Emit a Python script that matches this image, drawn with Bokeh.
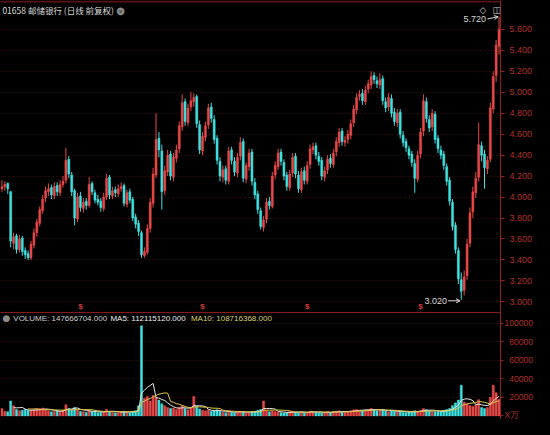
import pandas as pd
from bokeh.plotting import figure
from bokeh.layouts import column
from bokeh.models import (ColumnDataSource, Range1d, FixedTicker, Label, Span,
                          Arrow, OpenHead, NumeralTickFormatter)
from bokeh.core.properties import value
from bokeh.embed import file_html
from bokeh.resources import INLINE

# ---------------- data ----------------
opens = [4.08,4.10,4.13,4.05,3.56,3.63,3.50,3.61,3.49,3.46,
         3.42,3.54,3.66,3.75,3.87,3.99,4.05,4.09,4.01,4.11,
         4.04,4.12,4.16,4.36,4.21,4.06,3.79,4.01,3.89,3.96,
         3.92,4.13,4.04,3.98,3.96,3.89,4.00,4.19,4.01,4.07,
         4.03,4.08,4.11,3.93,4.05,3.98,3.81,3.75,3.66,3.44,
         3.47,3.70,3.94,4.21,4.56,4.44,4.06,4.24,4.41,4.19,
         4.37,4.46,4.67,4.91,4.71,4.86,4.91,4.96,4.69,4.44,
         4.57,4.69,4.86,4.74,4.56,4.34,4.19,4.27,4.15,4.45,
         4.34,4.23,4.39,4.53,4.17,4.29,4.43,4.14,4.03,3.87,
         3.71,3.79,3.96,3.91,4.21,4.29,4.43,4.33,4.21,4.09,
         4.23,4.39,4.21,4.07,4.25,4.15,4.31,4.45,4.49,4.39,
         4.35,4.19,4.26,4.37,4.31,4.43,4.52,4.63,4.52,4.55,
         4.59,4.71,4.83,4.96,4.99,4.91,5.03,5.07,5.16,5.11,
         5.07,5.13,4.91,4.86,4.94,4.81,4.71,4.81,4.59,4.53,
         4.46,4.41,4.32,4.17,4.41,4.63,4.91,4.74,4.67,4.79,
         4.56,4.45,4.41,4.29,4.16,3.95,3.73,3.49,3.21,3.11,
         3.25,3.56,3.86,4.04,4.19,4.49,4.41,4.27,4.36,4.84,
         5.16,5.44]
highs = [4.16,4.15,4.14,4.06,3.66,3.65,3.64,3.63,3.52,3.49,
         3.58,3.70,3.79,3.91,4.02,4.10,4.13,4.12,4.14,4.14,
         4.16,4.20,4.47,4.39,4.24,4.08,4.04,4.05,3.99,3.99,
         4.19,4.15,4.07,4.02,3.99,4.04,4.22,4.21,4.10,4.10,
         4.12,4.14,4.13,4.07,4.08,4.00,3.84,3.78,3.68,3.52,
         3.74,3.99,4.28,4.80,4.62,4.50,4.30,4.45,4.44,4.42,
         4.50,4.72,4.98,4.94,4.89,5.00,4.99,4.98,4.73,4.62,
         4.72,4.89,4.90,4.78,4.59,4.38,4.30,4.30,4.48,4.48,
         4.38,4.42,4.57,4.56,4.33,4.46,4.46,4.18,4.06,3.90,
         3.82,3.99,4.00,4.24,4.34,4.46,4.46,4.36,4.24,4.26,
         4.42,4.42,4.25,4.28,4.29,4.34,4.50,4.52,4.52,4.43,
         4.38,4.29,4.40,4.41,4.46,4.57,4.66,4.66,4.58,4.64,
         4.74,4.88,4.99,5.02,5.03,5.06,5.12,5.20,5.19,5.15,
         5.18,5.16,4.95,4.99,4.98,4.85,4.84,4.84,4.63,4.56,
         4.49,4.44,4.36,4.44,4.66,4.98,4.95,4.78,4.84,4.82,
         4.59,4.49,4.44,4.32,4.19,3.98,3.76,3.52,3.28,3.30,
         3.60,3.90,4.10,4.24,4.71,4.53,4.45,4.39,4.90,5.20,
         5.50,5.72]
lows = [4.05,4.06,4.03,3.52,3.50,3.46,3.47,3.44,3.41,3.40,
        3.40,3.51,3.62,3.72,3.84,3.95,4.01,3.98,3.98,4.01,
        4.01,4.09,4.13,4.18,4.01,3.73,3.76,3.86,3.85,3.88,
        3.90,4.02,3.94,3.92,3.86,3.86,3.97,3.98,3.98,4.00,
        4.00,4.05,3.91,3.90,3.94,3.77,3.70,3.63,3.42,3.42,
        3.45,3.66,3.90,4.18,4.38,3.88,4.02,4.20,4.16,4.15,
        4.33,4.42,4.63,4.68,4.68,4.82,4.86,4.66,4.41,4.40,
        4.53,4.65,4.71,4.51,4.31,4.15,4.14,4.12,4.12,4.31,
        4.20,4.19,4.35,4.14,4.13,4.25,4.11,3.98,3.84,3.69,
        3.67,3.75,3.88,3.89,4.17,4.26,4.30,4.16,4.06,4.06,
        4.19,4.18,4.04,4.04,4.12,4.12,4.27,4.41,4.36,4.30,
        4.16,4.15,4.22,4.28,4.28,4.39,4.48,4.49,4.48,4.51,
        4.55,4.67,4.79,4.92,4.88,4.88,4.99,5.03,5.08,5.04,
        5.03,4.88,4.81,4.82,4.76,4.68,4.67,4.56,4.48,4.43,
        4.36,4.29,4.04,4.14,4.37,4.58,4.71,4.62,4.63,4.51,
        4.42,4.36,4.26,4.11,3.92,3.68,3.46,3.17,3.02,3.06,
        3.21,3.52,3.80,3.99,4.15,4.34,4.08,4.22,4.33,4.80,
        5.10,5.36]
closes = [4.10,4.12,4.08,3.58,3.62,3.50,3.60,3.48,3.45,3.42,
          3.55,3.66,3.76,3.88,3.98,4.06,4.08,4.02,4.10,4.05,
          4.12,4.15,4.35,4.22,4.05,3.80,4.00,3.90,3.95,3.92,
          4.12,4.05,3.97,3.95,3.90,4.00,4.18,4.02,4.06,4.04,
          4.08,4.10,3.94,4.04,3.97,3.80,3.74,3.67,3.45,3.48,
          3.70,3.95,4.22,4.55,4.45,4.05,4.25,4.40,4.20,4.38,
          4.45,4.68,4.90,4.72,4.85,4.92,4.95,4.70,4.45,4.58,
          4.68,4.85,4.75,4.55,4.35,4.20,4.26,4.16,4.44,4.35,
          4.24,4.38,4.52,4.18,4.30,4.42,4.15,4.02,3.88,3.72,
          3.78,3.95,3.92,4.20,4.30,4.42,4.34,4.20,4.10,4.22,
          4.38,4.22,4.08,4.24,4.16,4.30,4.46,4.48,4.40,4.34,
          4.20,4.25,4.36,4.32,4.42,4.53,4.62,4.53,4.54,4.60,
          4.70,4.84,4.95,4.98,4.92,5.02,5.08,5.15,5.12,5.08,
          5.12,4.92,4.85,4.95,4.80,4.72,4.80,4.60,4.52,4.47,
          4.40,4.33,4.18,4.40,4.62,4.92,4.75,4.66,4.80,4.55,
          4.46,4.40,4.30,4.15,3.96,3.72,3.50,3.22,3.10,3.24,
          3.55,3.85,4.05,4.18,4.50,4.40,4.28,4.35,4.85,5.15,
          5.45,5.60]
volumes = [8000,5000,4500,16000,11000,7000,5500,6000,7000,6000,
           5500,6500,7000,8000,8500,7000,5500,4500,5000,5500,
           4500,6000,12000,8000,6500,9000,7000,5000,4500,4000,
           6000,5000,4000,3500,4000,4500,7000,5000,4000,3500,
           4000,4500,5000,4000,3500,5000,5500,11000,97000,19000,
           21000,16000,22000,20000,17000,13000,11000,9000,8000,8500,
           7000,9000,11000,8000,6500,9000,21000,10000,7500,6000,
           5500,6500,5000,5500,6500,5000,4000,3500,5500,4000,
           3500,4000,5000,4500,3500,4000,4500,5000,6000,7000,
           16000,6000,4500,5500,4500,4000,3500,3000,3500,4500,
           5000,4000,3500,4500,3500,4000,5000,4500,4000,3500,
           3500,4000,4500,3500,4500,5000,5500,4500,4000,4500,
           5500,6500,7000,6000,5500,6500,7000,8000,6500,5500,
           6000,7000,5500,4500,5500,5000,4500,5000,4000,3500,
           4500,4000,5500,4500,6000,8000,6500,5500,5000,4500,
           5000,4500,6000,7000,8000,11000,14000,17000,33000,15000,
           13000,11000,10000,12000,17500,9000,8000,9000,20000,33000,
           25000,18000]
price_ticks = [3.0, 3.2, 3.4, 3.6, 3.8, 4.0, 4.2, 4.4, 4.6, 4.8, 5.0, 5.2, 5.4, 5.6]
vol_ticks = [0, 20000, 40000, 60000, 80000, 100000]
vol_tick_labels = ["X万", "\u200720000", "\u200740000", "\u200760000", "\u200780000", "100000"]
dividend_idx = [27, 69, 105, 144]
title_text = "01658 邮储银行 (日线 前复权)"
vol_text = "VOLUME: 147666704.000"
ma5_text = "MA5: 112115120.000"
ma10_text = "MA10: 108716368.000"

# ---------------- styling / geometry ----------------
N = len(closes)
FW, H1, H2 = 500, 310, 109
RB = 34
BG = "#000000"
UP = "#e84848"
DOWN = "#3fe0e0"
AXIS_RED = "#9a2020"
LABEL_RED = "#b0302a"
GRID = "#2e0d0d"
TXT = "#d8d8d8"

idx = list(range(N))
colors = [UP if c >= o else DOWN for o, c in zip(opens, closes)]
body_top = [max(o, c) for o, c in zip(opens, closes)]
body_bot = [min(o, c) for o, c in zip(opens, closes)]
body_bot = [b if t - b > 0.004 else t - 0.004 for t, b in zip(body_top, body_bot)]

src = ColumnDataSource(dict(x=idx, o=opens, h=highs, l=lows, c=closes,
                            top=body_top, bot=body_bot, col=colors,
                            v=volumes))
vs = pd.Series(volumes, dtype=float)
ma_src = ColumnDataSource(dict(x=idx, ma5=vs.rolling(5).mean(), ma10=vs.rolling(10).mean()))

x_range = Range1d(-0.5, N - 0.5)
P_TOP, P_BOT = 5.8756, 2.9173
V_TOP, V_BOT = 113500, -3900


def style(p):
    p.background_fill_color = BG
    p.border_fill_color = BG
    p.outline_line_color = None
    p.xgrid.visible = False
    p.ygrid.grid_line_color = GRID
    p.ygrid.grid_line_dash = "2 2"
    ax = p.yaxis[0]
    ax.axis_line_color = AXIS_RED
    ax.major_tick_line_color = AXIS_RED
    ax.minor_tick_line_color = None
    ax.major_tick_in = 0
    ax.major_label_text_color = LABEL_RED
    ax.major_label_text_font = "Liberation Sans"


# ---------------- price panel ----------------
p1 = figure(frame_width=FW, frame_height=H1, output_backend="svg", toolbar_location=None,
            x_range=x_range, y_range=Range1d(P_BOT, P_TOP),
            x_axis_location=None, y_axis_location="right",
            min_border_left=0, min_border_right=RB, min_border_top=0, min_border_bottom=0)
style(p1)
p1.yaxis.ticker = FixedTicker(ticks=price_ticks)
p1.yaxis.formatter = NumeralTickFormatter(format="0.000")
p1.yaxis.major_label_text_font_size = "9px"
p1.yaxis.major_tick_out = 4
p1.yaxis.major_label_standoff = 5

p1.segment(x0="x", y0="l", x1="x", y1="h", color="col", line_width=1, source=src)
p1.vbar(x="x", top="top", bottom="bot", width=0.7, fill_color="col", line_color="col",
        line_width=0.5, source=src)

p1.add_layout(Span(location=P_TOP - 0.009, dimension="width", line_color="#5a1212", line_width=2))

div_src = ColumnDataSource(dict(x=dividend_idx, y=[2.954] * len(dividend_idx),
                                t=["$"] * len(dividend_idx)))
p1.text(x="x", y="y", text="t", source=div_src, text_font=value("Liberation Sans"),
        text_font_size="8px", text_color="#d83a3a", text_align="center",
        text_baseline="middle", text_font_style="bold")

# header
p1.add_layout(Label(x=0.15, y=5.784, text=title_text, text_font="Noto Sans CJK SC",
                    text_font_size="8.5px", text_color=TXT, text_baseline="middle"))
p1.add_layout(Label(x=40.8, y=5.784, text="●", text_font="DejaVu Sans",
                    text_font_size="10px", text_color="#8a8a8a", text_baseline="middle",
                    text_align="center"))
p1.add_layout(Label(x=40.8, y=5.781, text="v", text_font="DejaVu Sans",
                    text_font_size="6px", text_color="#222222", text_baseline="middle",
                    text_align="center"))
p1.add_layout(Label(x=165.5, y=5.784, text="◇", text_font="DejaVu Sans",
                    text_font_size="9px", text_color="#c8c8c8", text_baseline="middle",
                    text_align="center"))
p1.add_layout(Label(x=170.2, y=5.784, text="◫", text_font="DejaVu Sans",
                    text_font_size="9px", text_color="#c8c8c8", text_baseline="middle",
                    text_align="center"))

# max / min annotations
imax = highs.index(max(highs))
imin = lows.index(min(lows))
p1.add_layout(Label(x=imax - 4.5, y=highs[imax] - 0.02, text=f"{highs[imax]:.3f}",
                    text_font="Liberation Sans", text_font_size="9px", text_color=TXT,
                    text_align="right", text_baseline="middle"))
p1.add_layout(Arrow(end=OpenHead(size=4, line_color=TXT, line_width=1),
                    x_start=imax - 4.0, y_start=highs[imax] - 0.02,
                    x_end=imax - 0.3, y_end=highs[imax],
                    line_color=TXT, line_width=1))
p1.add_layout(Label(x=imin - 4.9, y=lows[imin] - 0.01, text=f"{lows[imin]:.3f}",
                    text_font="Liberation Sans", text_font_size="9px", text_color=TXT,
                    text_align="right", text_baseline="middle"))
p1.add_layout(Arrow(end=OpenHead(size=4, line_color=TXT, line_width=1),
                    x_start=imin - 4.5, y_start=lows[imin] - 0.01,
                    x_end=imin - 0.4, y_end=lows[imin] - 0.01,
                    line_color=TXT, line_width=1))

# ---------------- volume panel ----------------
p2 = figure(frame_width=FW, frame_height=H2, output_backend="svg", toolbar_location=None,
            x_range=x_range, y_range=Range1d(V_BOT, V_TOP),
            x_axis_location=None, y_axis_location="right",
            min_border_left=0, min_border_right=RB, min_border_top=0, min_border_bottom=0)
style(p2)
p2.yaxis.ticker = FixedTicker(ticks=vol_ticks)
p2.yaxis.major_label_overrides = {t: s for t, s in zip(vol_ticks, vol_tick_labels)}
p2.yaxis.major_label_text_font_size = "8.5px"
p2.yaxis.major_tick_out = 3
p2.yaxis.major_label_standoff = 1

p2.vbar(x="x", top="v", bottom=0, width=0.7, fill_color="col", line_color="col",
        line_width=0.5, source=src)
p2.line(x="x", y="ma5", source=ma_src, line_color="#e6e6e6", line_width=1)
p2.line(x="x", y="ma10", source=ma_src, line_color="#e0c848", line_width=1)

p2.add_layout(Span(location=V_TOP - 2100, dimension="width", line_color="#8f1d1d", line_width=1))

VY = 105200
p2.add_layout(Label(x=1.5, y=VY, text="●", text_font="DejaVu Sans", text_font_size="9px",
                    text_color="#8a8a8a", text_baseline="middle", text_align="center"))
p2.add_layout(Label(x=3.9, y=VY, text=vol_text, text_font="Liberation Sans",
                    text_font_size="8px", text_color="#d0d0d0", text_baseline="middle"))
p2.add_layout(Label(x=37.3, y=VY, text=ma5_text, text_font="Liberation Sans",
                    text_font_size="8px", text_color="#ececec", text_baseline="middle"))
p2.add_layout(Label(x=65.0, y=VY, text=ma10_text, text_font="Liberation Sans",
                    text_font_size="8px", text_color="#dcd070", text_baseline="middle"))

layout = column(p1, p2, spacing=0)
html = file_html(layout, INLINE)
html = html.replace("</head>",
                    "<style>html,body{background:#000000;overflow:hidden;}</style></head>", 1)
open("out.html", "w").write(html)
